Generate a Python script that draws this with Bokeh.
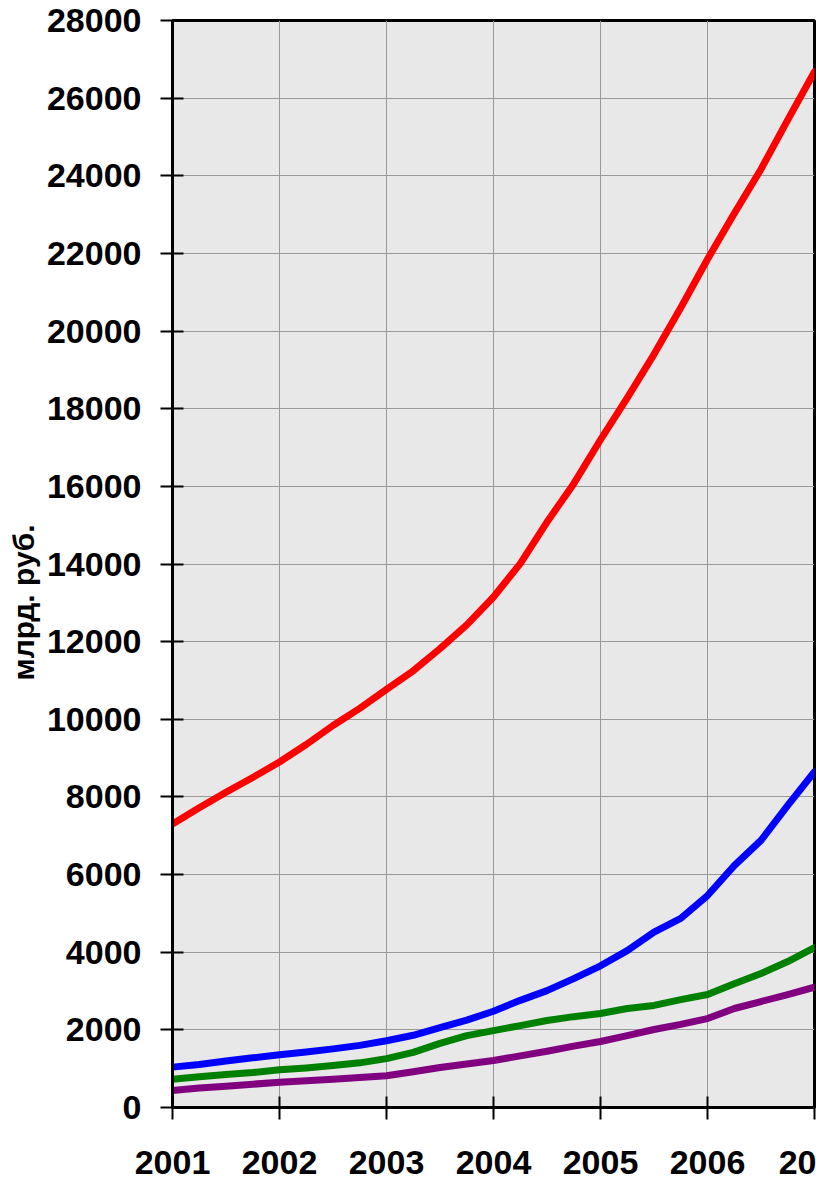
from bokeh.plotting import figure
from bokeh.models import FixedTicker, Range1d, ColumnDataSource, Title
from bokeh.embed import file_html
from bokeh.resources import INLINE

quarters = [2001.0, 2001.25, 2001.5, 2001.75, 2002.0, 2002.25, 2002.5, 2002.75,
            2003.0, 2003.25, 2003.5, 2003.75, 2004.0, 2004.25, 2004.5, 2004.75,
            2005.0, 2005.25, 2005.5, 2005.75, 2006.0, 2006.25, 2006.5, 2006.75,
            2007.0]

red_series = [7300, 7720, 8120, 8500, 8900, 9350, 9840, 10280,
              10770, 11250, 11820, 12430, 13150, 14010, 15080, 16070,
              17200, 18280, 19400, 20600, 21850, 23030, 24170, 25440,
              26680]
blue_series = [1040, 1110, 1200, 1280, 1360, 1430, 1510, 1600,
               1720, 1860, 2060, 2250, 2480, 2760, 3010, 3320,
               3650, 4040, 4520, 4870, 5460, 6230, 6880, 7780,
               8650]
green_series = [730, 790, 850, 900, 970, 1020, 1080, 1150,
                1260, 1420, 1650, 1850, 1980, 2110, 2240, 2340,
                2420, 2550, 2630, 2780, 2910, 3190, 3450, 3760,
                4120]
purple_series = [440, 500, 550, 600, 650, 690, 730, 770,
                 820, 920, 1030, 1120, 1210, 1330, 1450, 1580,
                 1700, 1850, 2010, 2140, 2290, 2550, 2730, 2910,
                 3100]

year_ticks = [2001, 2002, 2003, 2004, 2005, 2006, 2007]
year_labels = {2007: "20"}
value_ticks = list(range(0, 28001, 2000))
y_label = "млрд. руб."

series = [
    (red_series, "#ff0000"),
    (blue_series, "#0000ff"),
    (green_series, "#008000"),
    (purple_series, "#800080"),
]

p = figure(width=816, height=1180, output_backend="svg", toolbar_location=None,
           x_range=Range1d(2001, 2007), y_range=Range1d(0, 28000),
           min_border_left=172, min_border_right=2, min_border_top=20,
           min_border_bottom=73)

p.background_fill_color = "#e8e8e8"
p.border_fill_color = "white"
p.outline_line_color = "black"
p.outline_line_width = 3

for vals, col in series:
    src = ColumnDataSource(dict(x=quarters, y=vals))
    p.line("x", "y", source=src, line_color=col, line_width=7,
           line_cap="round", line_join="round")

p.xaxis.ticker = FixedTicker(ticks=year_ticks)
p.xaxis.major_label_overrides = year_labels
p.yaxis.ticker = FixedTicker(ticks=value_ticks)
p.xgrid.ticker = FixedTicker(ticks=year_ticks)
p.ygrid.ticker = FixedTicker(ticks=value_ticks)
p.grid.grid_line_color = "#999999"
p.grid.grid_line_width = 1

for ax in (p.xaxis, p.yaxis):
    ax.axis_line_color = "black"
    ax.axis_line_width = 3
    ax.major_tick_line_color = "black"
    ax.major_tick_line_width = 2
    ax.major_tick_out = 12
    ax.major_tick_in = 11
    ax.minor_tick_line_color = None
    ax.major_label_text_font = "Liberation Sans"
    ax.major_label_text_font_style = "bold"
    ax.major_label_text_font_size = "34px"
    ax.major_label_text_color = "black"

p.yaxis.major_label_standoff = 19
p.xaxis.major_label_standoff = 31

ytitle = Title(text=y_label, align="left", offset=427,
               text_font="Liberation Sans", text_font_style="bold",
               text_font_size="30px", text_color="black", standoff=8)
p.add_layout(ytitle, "left")

open("out.html", "w").write(file_html(p, INLINE))
